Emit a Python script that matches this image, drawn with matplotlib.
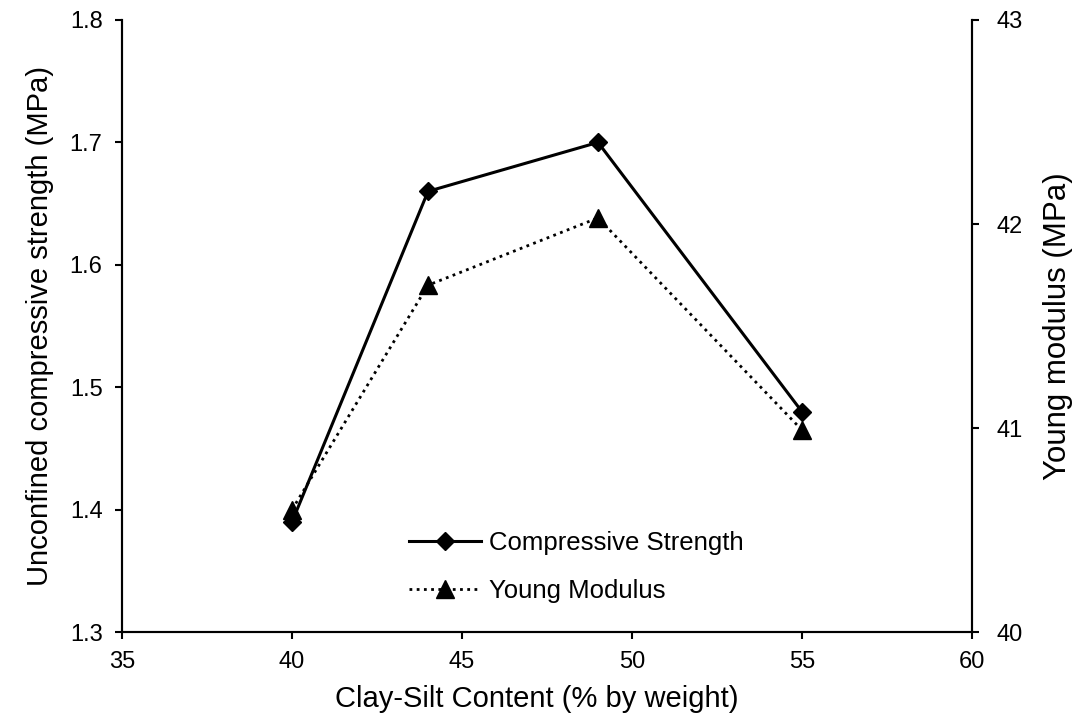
import matplotlib.pyplot as plt
import matplotlib.ticker as mticker

plt.rcParams['font.family'] = ['Liberation Sans', 'DejaVu Sans']

clay_silt = [40, 44, 49, 55]
strength = [1.39, 1.66, 1.70, 1.48]
young = [40.6, 41.7, 42.03, 40.99]

fig = plt.figure(figsize=(10.82, 7.24), dpi=100)
ax = fig.add_axes([0.1128, 0.127, 0.7855, 0.8454])
ax2 = ax.twinx()

l1, = ax.plot(clay_silt, strength, color='black', lw=2.2, marker='D', ms=9.5,
              label='Compressive Strength')
l2, = ax2.plot(clay_silt, young, color='black', lw=2.0, ls=(0, (1, 1.6)),
               marker='^', ms=12.5, label='Young Modulus')

ax.set_xlim(35, 60)
ax.set_ylim(1.3, 1.8)
ax2.set_ylim(40, 43)
ax.xaxis.set_major_locator(mticker.MultipleLocator(5))
ax.yaxis.set_major_locator(mticker.MultipleLocator(0.1))
ax.yaxis.set_major_formatter(mticker.FormatStrFormatter('%.1f'))
ax2.yaxis.set_major_locator(mticker.MultipleLocator(1))

for a in (ax, ax2):
    a.spines['top'].set_visible(False)
    for s in a.spines.values():
        s.set_linewidth(1.5)
    a.tick_params(direction='out', length=5, width=1.5, labelsize=17, pad=9)
ax2.tick_params(pad=13)

ax.set_xlabel('Clay-Silt Content (% by weight)', fontsize=21, labelpad=8)
ax.xaxis.label.set_x(0.488)
ax.set_ylabel('Unconfined compressive strength (MPa)', fontsize=21, labelpad=11)
ax2.set_ylabel('Young modulus (MPa)', fontsize=22.5, labelpad=14)

ax2.legend([l1, l2], ['Compressive Strength', 'Young Modulus'], frameon=False,
           fontsize=18.5, loc='center left', bbox_to_anchor=(0.3376, 0.106),
           borderpad=0, borderaxespad=0,
           handlelength=2.8, handletextpad=0.3, labelspacing=0.95)

fig.savefig('out.png', dpi=100)
